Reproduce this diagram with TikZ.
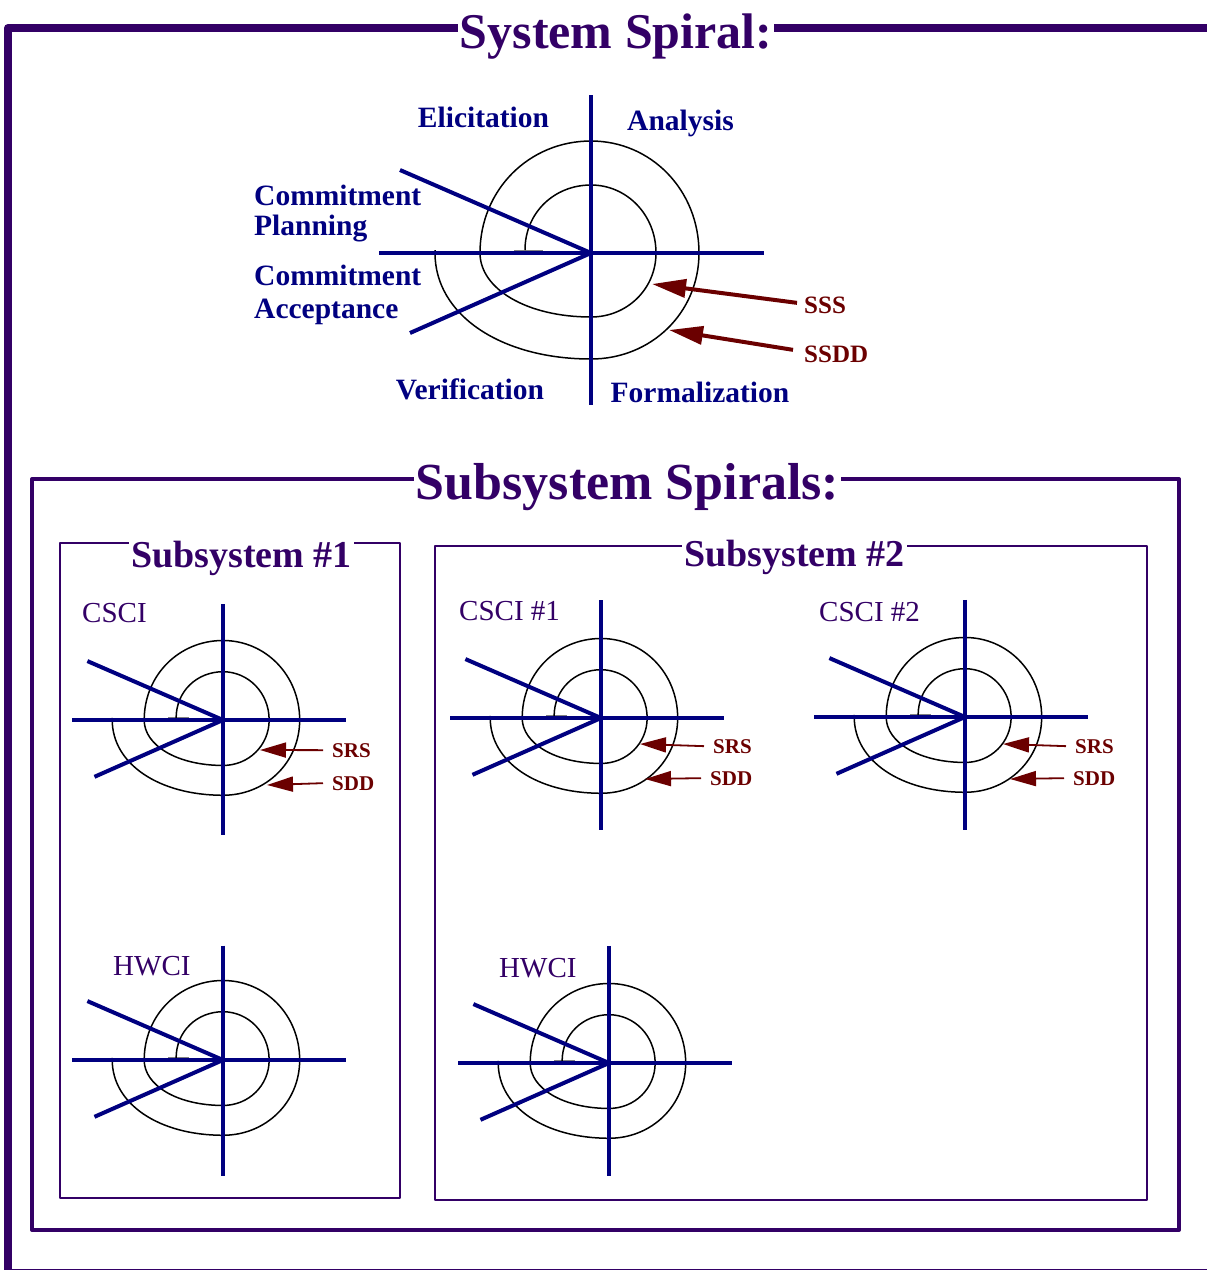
\documentclass[tikz,border=0pt]{standalone}
\usepackage{fontspec}
\setmainfont{Liberation Serif}
\usetikzlibrary{arrows.meta}
\definecolor{purp}{RGB}{51,0,102}
\definecolor{nv}{RGB}{0,0,128}
\definecolor{dred}{RGB}{107,0,0}
\newcommand\spiralcurve{(-66,-3) .. controls (-66,-40) and (-37,-68) .. (0,-68)
  .. controls (36,-68) and (65,-38) .. (65,0)
  .. controls (65,36) and (36,64) .. (0,64)
  .. controls (-64,64) and (-111,36) .. (-111,0)
  .. controls (-111,-63) and (-62,-112) .. (0,-112)
  .. controls (60,-112) and (108,-63) .. (108,0)
  .. controls (108,60) and (60,106) .. (0,106)
  .. controls (-90,106) and (-156,62) .. (-156,0) -- (-156,-3)}
\newcommand\spiralfig[4]{%
  \begin{scope}[shift={#1}, scale=#2]
    \draw[gray, line width=1.5pt] (-77,-2.5) -- (-48,-2.5);
    \draw[spcurve] \spiralcurve;
    \draw[spaxis] (0,#3) -- (0,#4);
    \draw[spaxis] (-212,0) -- (173,0);
    \draw[spaxis] (-191,-83) -- (0,0) -- (-181,80);
  \end{scope}}
\begin{document}
\begin{tikzpicture}[x=1pt,y=-1pt,
  spcurve/.style={black, line width=1.5pt},
  spaxis/.style={nv, line width=4pt, line join=round},
  frame/.style={purp, line join=round},
  ttl/.style={text=purp, fill=white, inner xsep=2pt, inner ysep=1pt, anchor=base, font=\bfseries\fontsize{#1}{#1}\selectfont},
  nlab/.style={text=nv, inner sep=0pt, font=\bfseries\fontsize{29.5}{30}\selectfont},
  rlab/.style={text=dred, inner sep=0pt, anchor=base west, font=\bfseries\fontsize{#1}{#1}\selectfont},
  clab/.style={text=purp, inner sep=0pt, anchor=base west, font=\fontsize{29}{29}\selectfont},
  bigarrow/.style={dred, line width=4pt, -{Triangle[length=34pt,width=18pt]}},
  smallarrow/.style={dred, line width=1.8pt, -{Triangle[length=26pt,width=15pt]}}]
\useasboundingbox (0,0) rectangle (1207,1270);
\clip (0,0) rectangle (1207,1270);
% frames
\draw[frame, line width=8pt] (8,28) rectangle (1217,1273);
\draw[frame, line width=4pt] (32,479) rectangle (1179,1230);
\draw[frame, line width=1.8pt] (60,543) rectangle (400,1198);
\draw[frame, line width=1.8pt] (435,546) rectangle (1147,1200);
\node[ttl=50] (tsys) at (616,48) {System Spiral:};
\node[ttl=52] (tsub) at (627.5,499) {Subsystem Spirals:};
\node[ttl=38] (tsub1) at (241.5,567) {Subsystem \#1};
\node[ttl=38] (tsub2) at (794.5,566) {Subsystem \#2};
% system spiral
\spiralfig{(591,253)}{1}{-158}{152}
\node[nlab, anchor=base] (elic) at (483.5,127) {Elicitation};
\node[nlab, anchor=base] (anal) at (680.5,130) {Analysis};
\node[nlab, anchor=base] (veri) at (470,399) {Verification};
\node[nlab, anchor=base] (form) at (700,402) {Formalization};
\node[nlab, anchor=base west] (cp1) at (254,205) {Commitment};
\node[nlab, anchor=base west] (cp2) at (254,235) {Planning};
\node[nlab, anchor=base west] (ca1) at (254,285) {Commitment};
\node[nlab, anchor=base west] (ca2) at (254,318) {Acceptance};
\node[rlab=25] (sss) at (804,313) {SSS};
\node[rlab=25] (ssdd) at (804,362) {SSDD};
\coordinate (sssTip) at (652,284);
\coordinate (ssddTip) at (669,330);
\draw[bigarrow] ([xshift=-7pt,yshift=2pt]sss.west) -- (sssTip);
\draw[bigarrow] ([xshift=-11pt,yshift=4pt]ssdd.west) -- (ssddTip);
% subsystem 1
\spiralfig{(223,720)}{0.71}{-163}{162}
\node[clab] (csci) at (82,622) {CSCI};
\node[rlab=21] (srs1) at (332,757) {SRS};
\node[rlab=21] (sdd1) at (332,790) {SDD};
\coordinate (srs1Tip) at (260,750);
\coordinate (sdd1Tip) at (267,785);
\draw[smallarrow] ([xshift=-9pt]srs1.west) -- (srs1Tip);
\draw[smallarrow] ([xshift=-9pt]sdd1.west) -- (sdd1Tip);
\spiralfig{(223,1060)}{0.71}{-161}{163}
\node[clab] (hwci1) at (113,975) {HWCI};
% subsystem 2
\spiralfig{(601,718)}{0.71}{-166}{158}
\node[clab] (csci1) at (459,620) {CSCI \#1};
\node[rlab=21] (srs2) at (713,753) {SRS};
\node[rlab=21] (sdd2) at (710,785) {SDD};
\coordinate (srs2Tip) at (640,744);
\coordinate (sdd2Tip) at (645,779);
\draw[smallarrow] ([xshift=-9pt]srs2.west) -- (srs2Tip);
\draw[smallarrow] ([xshift=-9pt]sdd2.west) -- (sdd2Tip);
\spiralfig{(965,717)}{0.71}{-165}{159}
\node[clab] (csci2) at (819,621) {CSCI \#2};
\node[rlab=21] (srs3) at (1075,753) {SRS};
\node[rlab=21] (sdd3) at (1073,785) {SDD};
\coordinate (srs3Tip) at (1003,744);
\coordinate (sdd3Tip) at (1010,779);
\draw[smallarrow] ([xshift=-9pt]srs3.west) -- (srs3Tip);
\draw[smallarrow] ([xshift=-9pt]sdd3.west) -- (sdd3Tip);
\spiralfig{(609,1063)}{0.71}{-165}{159}
\node[clab] (hwci2) at (499,977) {HWCI};
\end{tikzpicture}
\end{document}
